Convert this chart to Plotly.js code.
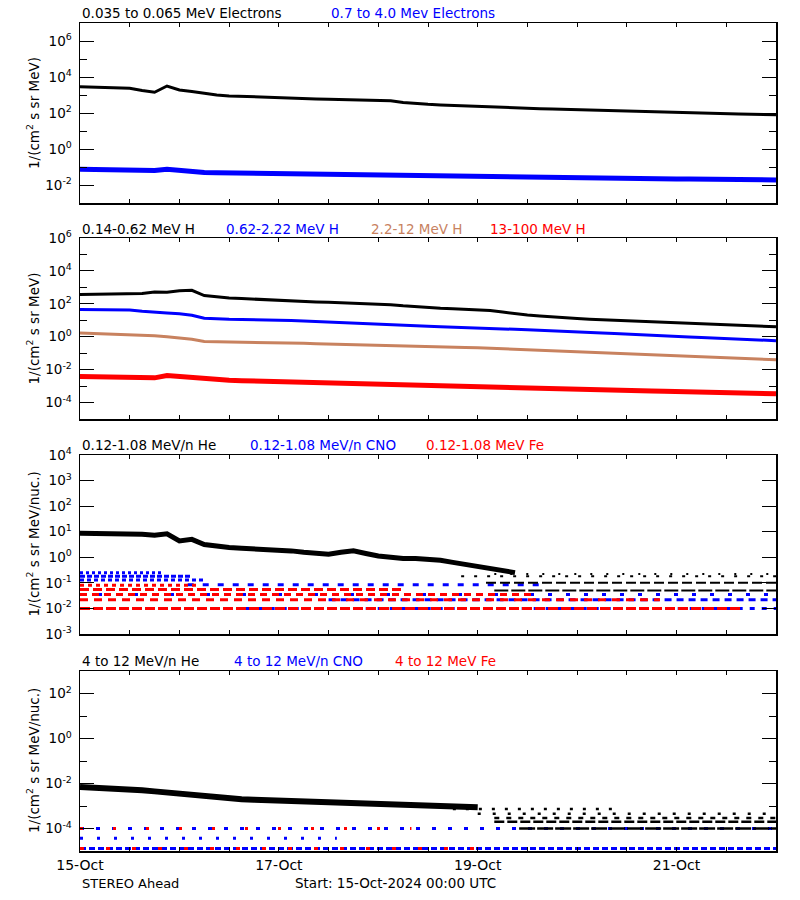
<!DOCTYPE html>
<html><head><meta charset="utf-8">
<script src="https://cdn.plot.ly/plotly-3.0.1.min.js"></script>
<style>html,body{margin:0;padding:0;background:#fff}#chart{width:800px;height:900px}</style>
</head><body><div id="chart"></div>
<script>
// ---- time grid (hours since 15-Oct-2024 00:00 UTC), sampled every 3 h ----
const HOURS = [0,3,6,9,12,15,18,21,24,27,30,33,36,39,42,45,48,51,54,57,60,63,66,69,72,75,78,81,84,87,90,93,96,99,102,105,108,111,114,117,120,123,126,129,132,135,138,141,144,147,150,153,156,159,162,165,168];
const X_TICK_HOURS = [0,48,96,144];
const X_TICK_TEXT = ['15-Oct','17-Oct','19-Oct','21-Oct'];
const X_MINOR_HOURS = [12,24,36,60,72,84,108,120,132,156,168];

// ---- Panel 1: electrons ----
const ELEC_LOW = [2880,2750,2630,2510,2340,1780,1410,3160,1910,1580,1200,1000,891,832,794,759,708,661,631,603,575,562,550,537,525,479,380,331,302,282,263,240,224,209,200,191,182,174,166,158,151,145,138,132,126,120,115,110,105,100,95.5,91.2,89.1,87.1,85.1,83.2,79.4];
const ELEC_HIGH = [0.0741,0.0724,0.0708,0.0692,0.0676,0.0646,0.0631,0.0759,0.0631,0.0562,0.0501,0.0479,0.0468,0.0457,0.0437,0.0427,0.0407,0.0398,0.038,0.0372,0.0363,0.0355,0.0347,0.0339,0.0339,0.0331,0.0324,0.0316,0.0316,0.0302,0.0295,0.0288,0.0282,0.0275,0.0269,0.0269,0.0263,0.0257,0.0251,0.0251,0.0245,0.024,0.0234,0.0234,0.0229,0.0224,0.0224,0.0219,0.0214,0.0214,0.0209,0.0204,0.02,0.02,0.0195,0.0191,0.0191];

// ---- Panel 2: protons ----
const H_014_062 = [363,372,380,389,398,417,525,501,631,661,316,263,229,209,191,174,158,148,138,129,123,117,112,107,100,89.1,75.9,66.1,58.9,53.7,50.1,46.8,44.7,39.8,31.6,25.1,20.9,18.2,15.8,14.1,12.6,11.5,10.7,10.0,9.33,8.71,7.94,7.41,7.08,6.61,6.31,5.75,5.25,4.79,4.47,4.17,3.98];
const H_062_222 = [44.7,44.7,43.7,42.7,42.7,35.5,30.2,27.5,25.1,20.0,13.2,12.0,11.5,11.2,11.0,10.7,10.5,9.77,9.12,8.51,8.13,7.76,7.24,6.61,6.03,5.62,5.25,4.79,4.37,3.98,3.80,3.63,3.55,3.31,3.02,2.82,2.63,2.40,2.24,2.09,1.95,1.78,1.66,1.55,1.41,1.32,1.23,1.15,1.05,0.977,0.912,0.832,0.776,0.724,0.676,0.617,0.575];
const H_22_12 = [1.66,1.58,1.51,1.41,1.32,1.26,1.15,1.0,0.832,0.708,0.513,0.501,0.479,0.468,0.457,0.457,0.447,0.417,0.398,0.372,0.355,0.339,0.316,0.302,0.282,0.263,0.251,0.240,0.234,0.229,0.224,0.219,0.214,0.2,0.186,0.174,0.162,0.151,0.141,0.132,0.123,0.115,0.107,0.1,0.0933,0.0871,0.0813,0.0759,0.0708,0.0661,0.0617,0.0575,0.0537,0.0501,0.0468,0.0437,0.0398];
const H_13_100 = [0.0038,0.00363,0.00347,0.00331,0.00316,0.00302,0.00316,0.00437,0.0038,0.00316,0.00251,0.00234,0.00224,0.00214,0.00204,0.00195,0.00186,0.00178,0.0017,0.00162,0.00155,0.00148,0.00141,0.00135,0.00129,0.00123,0.00117,0.00112,0.00107,0.00102,0.000977,0.000933,0.000891,0.000851,0.000813,0.000794,0.000759,0.000724,0.000692,0.000676,0.000646,0.000617,0.000589,0.000575,0.00055,0.000525,0.000501,0.00049,0.000468,0.000447,0.000427,0.000417,0.000398,0.00038,0.000363,0.000355,0.000339];

// ---- Panel 3: 0.12-1.08 MeV/n heavy ions ----
const HE_LOW = [8.71,8.71,8.51,8.51,8.51,7.94,7.24,8.32,4.37,5.01,3.16,2.63,2.40,2.24,2.14,2.04,1.95,1.78,1.58,1.41,1.32,1.58,1.78,1.41,1.12,1.0,0.891,0.891,0.832,0.759,0.631,0.525,0.398,0.355,0.288,0.251];
// count-limited levels (value, start hour, end hour)
const HE_LOW_LEVEL_VAL = [0.22, 0.18, 0.1, 0.05];
const HE_LOW_LEVEL_T0 = [100, 92, 98, 100];
const HE_LOW_LEVEL_T1 = [168, 168, 168, 168];
const CNO_LOW_LEVEL_VAL = [0.25, 0.18, 0.13, 0.085, 0.035, 0.022, 0.01];
const CNO_LOW_LEVEL_T0 = [0, 0, 0, 26, 0, 60, 40];
const CNO_LOW_LEVEL_T1 = [20, 27, 30, 112, 168, 168, 168];
const FE_LOW_LEVEL_VAL = [0.08, 0.055, 0.035, 0.022, 0.01];
const FE_LOW_LEVEL_T0 = [0, 0, 0, 0, 0];
const FE_LOW_LEVEL_T1 = [28, 78, 110, 140, 160];

// ---- Panel 4: 4-12 MeV/n heavy ions ----
const HE_HIGH = [0.00692,0.00661,0.00631,0.00603,0.00537,0.00501,0.00447,0.00398,0.00347,0.00302,0.00263,0.00229,0.00209,0.002,0.00191,0.00182,0.00174,0.00166,0.00158,0.00151,0.00148,0.00141,0.00135,0.00132,0.00126,0.00117,0.0011,0.00105,0.001,0.000955,0.000933,0.000912,0.000891];
const HE_HIGH_LEVEL_VAL = [0.00074, 0.00045, 0.00029, 0.0002, 0.0001];
const HE_HIGH_LEVEL_T0 = [90, 96, 100, 100, 106];
const HE_HIGH_LEVEL_T1 = [130, 168, 168, 168, 168];
const CNO_HIGH_LEVEL_VAL = [0.0001, 0.000037, 0.000013];
const CNO_HIGH_LEVEL_T0 = [0, 0, 0];
const CNO_HIGH_LEVEL_T1 = [168, 62, 168];
const FE_HIGH_LEVEL_VAL = [0.0001, 0.000013];
const FE_HIGH_LEVEL_T0 = [0, 0];
const FE_HIGH_LEVEL_T1 = [80, 100];

// ---- y tick labels ----
const Y1_TICKS = [1e-2,1,1e2,1e4,1e6];
const Y1_TEXT = ['10<sup>-2</sup>','10<sup>0</sup>','10<sup>2</sup>','10<sup>4</sup>','10<sup>6</sup>'];
const Y1_MINOR = [1e-1,10,1e3,1e5];
const Y2_TICKS = [1e-4,1e-2,1,1e2,1e4,1e6];
const Y2_TEXT = ['10<sup>-4</sup>','10<sup>-2</sup>','10<sup>0</sup>','10<sup>2</sup>','10<sup>4</sup>','10<sup>6</sup>'];
const Y2_MINOR = [1e-3,1e-1,10,1e3,1e5];
const Y3_TICKS = [1e-3,1e-2,1e-1,1,10,1e2,1e3,1e4];
const Y3_TEXT = ['10<sup>-3</sup>','10<sup>-2</sup>','10<sup>-1</sup>','10<sup>0</sup>','10<sup>1</sup>','10<sup>2</sup>','10<sup>3</sup>','10<sup>4</sup>'];
const Y4_TICKS = [1e-4,1e-2,1,1e2];
const Y4_TEXT = ['10<sup>-4</sup>','10<sup>-2</sup>','10<sup>0</sup>','10<sup>2</sup>'];
const Y4_MINOR = [1e-3,1e-1,10];

const BLACK='#000000', BLUE='#0000ff', BROWN='#c8825f', RED='#ff0000';
const FONT = 'DejaVu Sans, sans-serif';

const traces = [];
function axn(ax){ return ax===1 ? '' : String(ax); }
function line(y, color, width, ax){
  traces.push({x: HOURS.slice(0, y.length), y: y, mode:'lines', type:'scatter',
    line:{color:color, width:width},
    xaxis:'x'+axn(ax), yaxis:'y'+axn(ax), hoverinfo:'skip'});
}
function levels(vals, t0, t1, color, width, dashes, ax){
  for(let i=0;i<vals.length;i++){
    traces.push({x:[t0[i], t1[i]], y:[vals[i], vals[i]], mode:'lines', type:'scatter',
      line:{color:color, width:width, dash:dashes[i % dashes.length]},
      xaxis:'x'+axn(ax), yaxis:'y'+axn(ax), hoverinfo:'skip'});
  }
}
line(ELEC_LOW, BLACK, 3, 1);
line(ELEC_HIGH, BLUE, 5, 1);
line(H_014_062, BLACK, 3, 2);
line(H_062_222, BLUE, 3, 2);
line(H_22_12, BROWN, 3, 2);
line(H_13_100, RED, 5, 2);
levels(CNO_LOW_LEVEL_VAL, CNO_LOW_LEVEL_T0, CNO_LOW_LEVEL_T1, BLUE, 3,
  ['3px,3px','5px,2px','4px,3px','6px,9px','4px,14px','7px,5px','5px,7px'], 3);
levels(FE_LOW_LEVEL_VAL, FE_LOW_LEVEL_T0, FE_LOW_LEVEL_T1, RED, 3,
  ['4px,4px','9px,4px','7px,5px','8px,6px','10px,3px'], 3);
levels(HE_LOW_LEVEL_VAL, HE_LOW_LEVEL_T0, HE_LOW_LEVEL_T1, BLACK, 2,
  ['2px,14px','3px,10px','10px,4px','14px,3px'], 3);
line(HE_LOW, BLACK, 5, 3);
levels(CNO_HIGH_LEVEL_VAL, CNO_HIGH_LEVEL_T0, CNO_HIGH_LEVEL_T1, BLUE, 3,
  ['4px,12px','3px,14px','6px,3px'], 4);
levels(FE_HIGH_LEVEL_VAL, FE_HIGH_LEVEL_T0, FE_HIGH_LEVEL_T1, RED, 3,
  ['3px,30px','4px,22px'], 4);
levels(HE_HIGH_LEVEL_VAL, HE_HIGH_LEVEL_T0, HE_HIGH_LEVEL_T1, BLACK, 2.5,
  ['3px,10px','3px,12px','5px,7px','10px,3px','16px,2px'], 4);
line(HE_HIGH, BLACK, 6, 4);

// panel geometry in pixels (top, bottom)
const PANELS = [[23,203],[238,419],[455,634],[671,851]];
const H = 900;
function dom(p){ return [1 - p[1]/H, 1 - p[0]/H]; }

function xax(i){
  return {domain:[0,1], range:[0,168], anchor:'y'+axn(i), showgrid:false, zeroline:false,
    showline:true, linecolor:'#000', linewidth:1.5, mirror:'allticks', ticks:'inside', ticklen:4,
    tickwidth:1, tickcolor:'#000', tickmode:'array', tickvals:X_TICK_HOURS, ticktext:X_TICK_TEXT,
    minor:{tickmode:'array', tickvals:X_MINOR_HOURS, ticks:'inside', ticklen:4, tickwidth:1, tickcolor:'#000', showgrid:false},
    showticklabels: i===4, tickfont:{family:FONT, size:14, color:'#000'}, ticklabelstandoff:1};
}
function yax(i, range, ticks, text, minor){
  const a = {domain:dom(PANELS[i-1]), type:'log', range:range, anchor:'x'+axn(i),
    showgrid:false, zeroline:false, showline:true, linecolor:'#000', linewidth:1.5, mirror:'allticks',
    ticks:'inside', ticklen:14, tickwidth:1, tickcolor:'#000', tickmode:'array', tickvals:ticks, ticktext:text,
    tickfont:{family:FONT, size:13.5, color:'#000'}, ticklabelstandoff:4};
  if(minor) a.minor = {tickmode:'array', tickvals:minor, ticks:'inside', ticklen:7, tickwidth:1, tickcolor:'#000', showgrid:false};
  return a;
}

const ann = [];
function txt(px, py, s, color, extra){
  ann.push(Object.assign({xref:'paper', yref:'paper', x:(px-80)/696, y:1-py/H, text:s, showarrow:false,
    xanchor:'left', yanchor:'middle', font:{family:FONT, size:13.5, color:color}}, extra||{}));
}
txt(80, 13, '0.035 to 0.065 MeV Electrons', BLACK);
txt(329, 13, '0.7 to 4.0 Mev Electrons', BLUE);
txt(80, 229, '0.14-0.62 MeV H', BLACK);
txt(224, 229, '0.62-2.22 MeV H', BLUE);
txt(369, 229, '2.2-12 MeV H', BROWN);
txt(488, 229, '13-100 MeV H', RED);
txt(80, 445, '0.12-1.08 MeV/n He', BLACK);
txt(248, 445, '0.12-1.08 MeV/n CNO', BLUE);
txt(424, 445, '0.12-1.08 MeV Fe', RED);
txt(80, 661, '4 to 12 MeV/n He', BLACK);
txt(232, 661, '4 to 12 MeV/n CNO', BLUE);
txt(393, 661, '4 to 12 MeV Fe', RED);
txt(80, 883, 'STEREO Ahead', BLACK, {font:{family:FONT, size:13, color:BLACK}});
txt(293, 883, 'Start: 15-Oct-2024 00:00 UTC', BLACK, {font:{family:FONT, size:13.5, color:BLACK}});
const YTITLES = ['1/(cm<sup>2</sup> s sr MeV)','1/(cm<sup>2</sup> s sr MeV)','1/(cm<sup>2</sup> s sr MeV/nuc.)','1/(cm<sup>2</sup> s sr MeV/nuc.)'];
for(let i=0;i<4;i++){
  const c = (PANELS[i][0]+PANELS[i][1])/2;
  txt(33, c, YTITLES[i], BLACK, {textangle:-90, xanchor:'center'});
}

const layout = {
  width:800, height:900, margin:{l:80, r:24, t:0, b:0}, showlegend:false,
  paper_bgcolor:'#fff', plot_bgcolor:'#fff',
  xaxis:xax(1), xaxis2:xax(2), xaxis3:xax(3), xaxis4:xax(4),
  yaxis:yax(1, [-3,7], Y1_TICKS, Y1_TEXT, Y1_MINOR),
  yaxis2:yax(2, [-5,6], Y2_TICKS, Y2_TEXT, Y2_MINOR),
  yaxis3:yax(3, [-3,4], Y3_TICKS, Y3_TEXT, null),
  yaxis4:yax(4, [-5,3], Y4_TICKS, Y4_TEXT, Y4_MINOR),
  annotations:ann
};
Plotly.newPlot('chart', traces, layout, {staticPlot:true, displayModeBar:false});
</script></body></html>
